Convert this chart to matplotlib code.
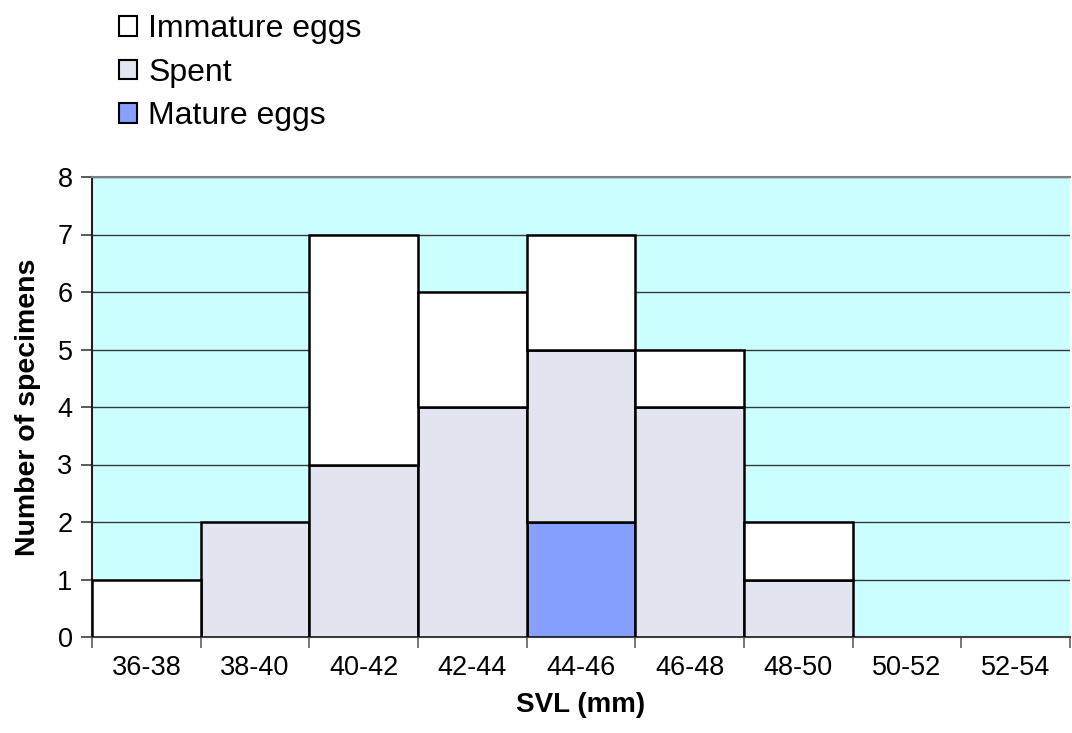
import matplotlib
matplotlib.use("Agg")
import matplotlib.pyplot as plt
from matplotlib.patches import Patch

categories = ["36-38", "38-40", "40-42", "42-44", "44-46", "46-48", "48-50", "50-52", "52-54"]
mature = [0, 0, 0, 0, 2, 0, 0, 0, 0]
spent = [0, 2, 3, 4, 3, 4, 1, 0, 0]
immature = [1, 0, 4, 2, 2, 1, 1, 0, 0]
yticks = [0, 1, 2, 3, 4, 5, 6, 7, 8]

plt.rcParams['font.family'] = ['Liberation Sans', 'DejaVu Sans']

W, H = 1072, 733
fig = plt.figure(figsize=(W / 100, H / 100), dpi=100)
ax = fig.add_axes([92 / W, (H - 637) / H, 978 / W, 460 / H])
ax.set_facecolor('#CCFFFF')

c_mature = '#86A0FF'
c_spent = '#E2E4F0'
c_imm = '#FFFFFF'
lw = 1.8

x = list(range(len(categories)))

def draw(vals, bottoms, color):
    xs = [xi for xi, v in zip(x, vals) if v > 0]
    hs = [v for v in vals if v > 0]
    bs = [b for b, v in zip(bottoms, vals) if v > 0]
    ax.bar(xs, hs, bottom=bs, width=1.0, color=color, edgecolor='black',
           linewidth=lw, zorder=3)

b0 = [0] * len(categories)
draw(mature, b0, c_mature)
b1 = [m for m in mature]
draw(spent, b1, c_spent)
b2 = [m + s for m, s in zip(mature, spent)]
draw(immature, b2, c_imm)

ax.set_xlim(-0.5, len(categories) - 0.5)
ax.set_ylim(0, 8)
ax.set_yticks(yticks)
ax.set_yticklabels([str(v) for v in yticks], fontsize=19.5)
ax.yaxis.grid(True, color='#303838', linewidth=1.0, zorder=1)
ax.set_axisbelow(True)

ax.set_xticks(x)
ax.set_xticklabels(categories, fontsize=19.5)
ax.set_xticks([i - 0.5 for i in range(len(categories) + 1)], minor=True)
ax.tick_params(axis='x', which='major', length=0, pad=13)
ax.tick_params(axis='x', which='minor', length=8, width=1.2, color='#606060', direction='out')
ax.tick_params(axis='y', length=8, width=1.2, color='#404040', direction='out', pad=6)

ax.spines['right'].set_visible(False)
ax.spines['top'].set_color('#808080')
ax.spines['top'].set_linewidth(1.5)
ax.spines['left'].set_color('#202020')
ax.spines['left'].set_linewidth(1.5)
ax.spines['bottom'].set_color('#404040')
ax.spines['bottom'].set_linewidth(1.5)

ax.set_xlabel("SVL (mm)", fontsize=20, fontweight='bold', labelpad=8)
ax.set_ylabel("Number of specimens", fontsize=20.5, fontweight='bold', labelpad=12)

handles = [Patch(facecolor=c_imm, edgecolor='black', linewidth=1.5),
           Patch(facecolor=c_spent, edgecolor='black', linewidth=1.5),
           Patch(facecolor=c_mature, edgecolor='black', linewidth=1.5)]
fig.legend(handles, ["Immature eggs", "Spent", "Mature eggs"],
           loc='upper left', bbox_to_anchor=(97 / W, 1 + 8 / H),
           frameon=False, fontsize=23, handlelength=0.55, handleheight=0.55,
           handletextpad=0.35, labelspacing=0.42, borderpad=0.2)

fig.savefig("out.png", dpi=100)
